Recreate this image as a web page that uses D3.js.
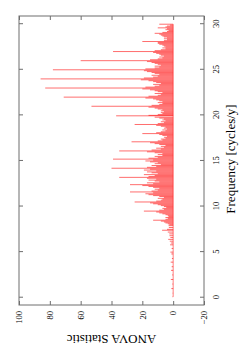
<!DOCTYPE html>
<html>
<head>
<meta charset="utf-8">
<script src="https://cdn.jsdelivr.net/npm/d3@7"></script>
<style>
body{margin:0;background:#fff;}
svg{display:block;}
text{font-family:"Liberation Serif","DejaVu Serif",serif;fill:#000;}
.axis path{display:none;}
.axis line{stroke:#6e6e6e;}
.frame{fill:none;stroke:#6e6e6e;stroke-width:1;}
</style>
</head>
<body>
<script>
//wrap everything in a self-executing function
(function(){

//impulse frequencies (cycles/y)
var freqs = [
  0.1,0.5,1.0,1.5,2.0,2.5,3.0,3.4,3.9,4.3,4.8,5.0,5.4,5.8,6.0,6.2,6.4,6.6,6.8,7.0,7.2,7.4,7.5,7.7,7.9,
  8.0,8.1,8.2,8.3,8.4,8.5,8.6,8.7,8.8,8.9,
  9.0,9.1,9.2,9.3,9.4,9.5,9.6,9.7,9.8,9.9,
  10.0,10.1,10.2,10.3,10.4,10.5,10.6,10.7,10.8,10.9,
  11.0,11.1,11.2,11.3,11.4,11.5,11.6,11.7,11.8,11.9,
  12.0,12.1,12.2,12.3,12.4,12.5,12.6,12.7,12.8,12.9,
  13.0,13.1,13.2,13.3,13.4,13.5,13.6,13.7,13.8,13.9,
  14.0,14.1,14.2,14.3,14.4,14.5,14.6,14.7,14.8,14.9,
  15.0,15.1,15.2,15.3,15.4,15.5,15.6,15.7,15.8,15.9,
  16.0,16.1,16.2,16.3,16.4,16.5,16.6,16.7,16.8,16.9,
  17.0,17.1,17.2,17.3,17.4,17.5,17.6,17.7,17.8,17.9,
  18.0,18.1,18.2,18.3,18.4,18.5,18.6,18.7,18.8,18.9,
  19.0,19.1,19.2,19.3,19.4,19.5,19.6,19.7,19.8,19.95,
  20.0,20.1,20.2,20.3,20.4,20.5,20.6,20.7,20.8,20.9,
  21.0,21.1,21.2,21.3,21.4,21.5,21.6,21.7,21.8,21.9,
  22.0,22.1,22.2,22.3,22.4,22.5,22.6,22.7,22.8,22.9,
  23.0,23.1,23.2,23.3,23.4,23.5,23.6,23.7,23.8,23.9,
  24.0,24.1,24.2,24.3,24.4,24.5,24.6,24.7,24.8,24.9,
  25.0,25.1,25.2,25.3,25.4,25.5,25.6,25.7,25.8,25.9,
  26.0,26.1,26.2,26.3,26.4,26.5,26.6,26.7,26.8,26.9,
  27.0,27.1,27.2,27.3,27.4,27.5,27.6,27.7,27.8,27.9,
  28.0,28.1,28.2,28.3,28.4,28.5,28.6,28.7,28.8,28.9,
  29.0,29.1,29.2,29.3,29.4,29.5,29.6,29.7,29.8,29.9,30.0
];
//ANOVA statistic at each frequency
var anova = [
  0.4,0.3,1.2,0.5,1.5,0.6,1.4,1.0,1.6,0.8,1.2,1.8,1.0,2.0,1.5,2.2,3.2,1.8,2.4,2.5,3.5,7.2,4.0,2.8,3.0,
  2.5,3.5,5,6,8,13,5,3.5,5,3,
  3.5,5,7,9,11,19,9,6,7,4.5,
  6,8,10,13,15,25,11,8,7,10,
  6,9,13,16,18,13,28,14,10,12,
  9,13,16,20,28,13,17,9,12,16,
  11,17,35,16,12,19,10,14,17,11,
  19,15,40,17,11,14,8,12,10,15,
  18,13,39,16,10,12,7,10,7,12,
  17,35,14,8,11,6,8,5,9,12,
  15,27,10,7,8,5,6,4,7,9,
  20,11,8,5,7,4,6,5,8,11,
  25,10,6,8,5,7,6,9,12,37,
  16,10,7,8,6,8,7,10,12,16,
  53,14,9,7,10,7,9,11,13,18,
  71,16,10,8,12,7,10,12,15,20,
  83,18,12,9,13,8,11,13,16,21,
  86,19,13,10,14,9,12,14,17,19,
  78,18,12,9,12,8,10,12,14,17,
  60,15,10,7,9,6,8,9,11,13,
  39,12,8,5,7,5,6,7,9,10,
  10,20,6,4,6,4,6,7,8,9,
  12,7,4,3,5,4,10,5,4,2,9
];
//tick values
var freqTicks = [0,5,10,15,20,25,30];
var anovaTicks = [-20,0,20,40,60,80,100];

var width = 240,
    height = 350;

//plot is drawn landscape (350 x 240) then turned a quarter turn
var left = 45, right = 334, top = 19, bottom = 204;

var svg = d3.select("body")
    .append("svg")
    .attr("width", width)
    .attr("height", height);

var g = svg.append("g")
    .attr("transform", "translate(0," + height + ") rotate(-90)");

var x = d3.scaleLinear()
    .domain([-0.8, 30.9])
    .range([left, right]);

var y = d3.scaleLinear()
    .domain([-20, 100])
    .range([bottom, top]);

//zero line under the impulses
g.append("line")
    .attr("x1", x(d3.min(freqs)))
    .attr("x2", x(d3.max(freqs)))
    .attr("y1", y(0))
    .attr("y2", y(0))
    .style("stroke", "#ff0000")
    .style("stroke-opacity", 0.5)
    .style("stroke-width", 1);

//impulses
g.selectAll(".impulse")
    .data(freqs)
    .enter()
    .append("line")
    .attr("class", "impulse")
    .attr("x1", function(d){ return x(d); })
    .attr("x2", function(d){ return x(d); })
    .attr("y1", y(0))
    .attr("y2", function(d, i){ return y(anova[i]); })
    .style("stroke", "#ff0000")
    .style("stroke-opacity", 0.72)
    .style("stroke-width", 0.8);

//axes, gnuplot style ticks inward on all sides
g.append("g")
    .attr("class", "axis")
    .attr("transform", "translate(0," + bottom + ")")
    .call(d3.axisBottom(x).tickValues(freqTicks).tickSizeInner(-4).tickSizeOuter(0).tickPadding(9))
    .selectAll("text")
    .style("font-size", "8.5px");

g.append("g")
    .attr("class", "axis")
    .attr("transform", "translate(0," + top + ")")
    .call(d3.axisTop(x).tickValues(freqTicks).tickSizeInner(-4).tickSizeOuter(0).tickFormat(""));

g.append("g")
    .attr("class", "axis")
    .attr("transform", "translate(" + left + ",0)")
    .call(d3.axisLeft(y).tickValues(anovaTicks).tickSizeInner(-4).tickSizeOuter(0).tickPadding(6))
    .selectAll("text")
    .style("font-size", "8.5px");

g.append("g")
    .attr("class", "axis")
    .attr("transform", "translate(" + right + ",0)")
    .call(d3.axisRight(y).tickValues(anovaTicks).tickSizeInner(-4).tickSizeOuter(0).tickFormat(""));

g.selectAll(".axis text")
    .style("font-family", "'Liberation Serif','DejaVu Serif',serif")
    .style("fill", "#000");

//frame
g.append("rect")
    .attr("class", "frame")
    .attr("x", left)
    .attr("y", top)
    .attr("width", right - left)
    .attr("height", bottom - top);

//axis titles
g.append("text")
    .attr("x", 191)
    .attr("y", 235)
    .attr("text-anchor", "middle")
    .style("font-size", "13px")
    .text("Frequency [cycles/y]");

g.append("text")
    .attr("transform", "translate(15," + ((top + bottom) / 2) + ") rotate(-90)")
    .attr("text-anchor", "middle")
    .style("font-size", "13px")
    .text("ANOVA Statistic");

})();
</script>
</body>
</html>
